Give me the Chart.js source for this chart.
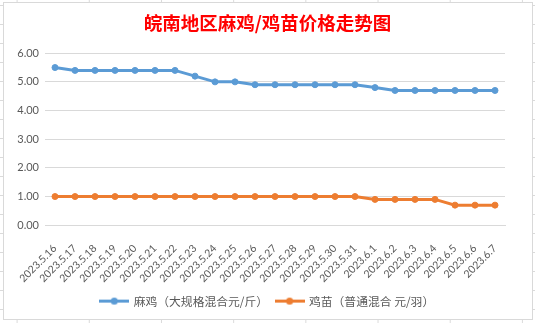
<!DOCTYPE html>
<html><head><meta charset="utf-8">
<script src="https://cdn.jsdelivr.net/npm/chart.js@4"></script>
<style>
html,body{margin:0;padding:0;width:535px;height:323px;overflow:hidden;}
body{background-color:#fff;background-image:linear-gradient(to right,#dadada 1px,transparent 1px),linear-gradient(to bottom,#dadada 1px,transparent 1px);background-size:72.2px 19px;background-position:16.6px 5px;}
#frame{position:absolute;left:3px;top:2px;width:530px;height:318px;box-sizing:border-box;border:1px solid #d9d9d9;background:#fff;}
#c{position:absolute;left:0;top:0;}
</style></head><body>
<div id="frame"></div>
<canvas id="c" width="535" height="323"></canvas>
<script>
const chartTitle = '皖南地区麻鸡/鸡苗价格走势图';
const categories = ['2023.5.16','2023.5.17','2023.5.18','2023.5.19','2023.5.20','2023.5.21','2023.5.22','2023.5.23','2023.5.24','2023.5.25','2023.5.26','2023.5.27','2023.5.28','2023.5.29','2023.5.30','2023.5.31','2023.6.1','2023.6.2','2023.6.3','2023.6.4','2023.6.5','2023.6.6','2023.6.7'];
const seriesNames = ['麻鸡（大规格混合元/斤）', '鸡苗（普通混合 元/羽）'];
const majiPrice = [5.5,5.4,5.4,5.4,5.4,5.4,5.4,5.2,5.0,5.0,4.9,4.9,4.9,4.9,4.9,4.9,4.8,4.7,4.7,4.7,4.7,4.7,4.7];
const jimiaoPrice = [1.0,1.0,1.0,1.0,1.0,1.0,1.0,1.0,1.0,1.0,1.0,1.0,1.0,1.0,1.0,1.0,0.9,0.9,0.9,0.9,0.7,0.7,0.7];
const yTickValues = [0,1,2,3,4,5,6];

const BLUE = '#5b9bd5', ORANGE = '#ed7d31', GRID = '#d9d9d9', TXT = '#595959';

function legendIcon(color){
  const cv = document.createElement('canvas');
  cv.width = 30; cv.height = 9;
  const g = cv.getContext('2d');
  g.strokeStyle = color; g.lineWidth = 3;
  g.beginPath(); g.moveTo(0,4.5); g.lineTo(30,4.5); g.stroke();
  g.fillStyle = color;
  g.beginPath(); g.arc(15,4.5,3.6,0,Math.PI*2); g.fill();
  return cv;
}
const icons = [legendIcon(BLUE), legendIcon(ORANGE)];

new Chart(document.getElementById('c'), {
  type: 'line',
  data: {
    labels: categories,
    datasets: [
      {label: seriesNames[0], data: majiPrice, borderColor: BLUE, backgroundColor: BLUE, borderWidth: 3, pointRadius: 3, pointBorderWidth: 1, pointBackgroundColor: BLUE, pointBorderColor: BLUE, tension: 0, yAxisID: 'y'},
      {label: seriesNames[1], data: jimiaoPrice, borderColor: ORANGE, backgroundColor: ORANGE, borderWidth: 3, pointRadius: 3, pointBorderWidth: 1, pointBackgroundColor: ORANGE, pointBorderColor: ORANGE, tension: 0, yAxisID: 'y'}
    ]
  },
  options: {
    responsive: false,
    animation: false,
    layout: {padding: {top: 0, left: 0, right: 0, bottom: 6}},
    plugins: {
      title: {display: true, text: chartTitle, color: '#ff0000', font: {family: '"Noto Sans CJK SC"', size: 18.5, weight: 'bold'}, padding: {top: 12, bottom: 19}},
      legend: {
        position: 'bottom',
        labels: {
          color: TXT, font: {family: '"Noto Sans CJK SC"', size: 11.8}, padding: 8,
          usePointStyle: true, pointStyleWidth: 27,
          generateLabels(chart){
            const items = Chart.defaults.plugins.legend.labels.generateLabels(chart);
            items.forEach((it,i)=>{ it.pointStyle = icons[i]; it.fontColor = TXT; });
            return items;
          }
        }
      },
      tooltip: {enabled: false}
    },
    scales: {
      x: {
        offset: true,
        grid: {display: false},
        border: {display: true, color: GRID},
        ticks: {color: TXT, font: {family: 'Lato', size: 10.5}, minRotation: 45, maxRotation: 45, padding: 9, autoSkip: false},
        afterFit(s){ s.height = 62; }
      },
      y: {
        min: 0, max: 6,
        grid: {color: GRID, drawTicks: false},
        border: {display: false},
        afterBuildTicks(s){ s.ticks = yTickValues.map(v=>({value:v})); },
        ticks: {color: TXT, font: {family: 'Lato', size: 11}, padding: 6, callback: v => Number(v).toFixed(2)},
        afterFit(s){ s.width = 45; }
      },
      yR: {
        position: 'right', min: 0, max: 6,
        grid: {display: false}, border: {display: false}, ticks: {display: false},
        afterFit(s){ s.width = 30; }
      }
    }
  }
});
</script>
</body></html>
